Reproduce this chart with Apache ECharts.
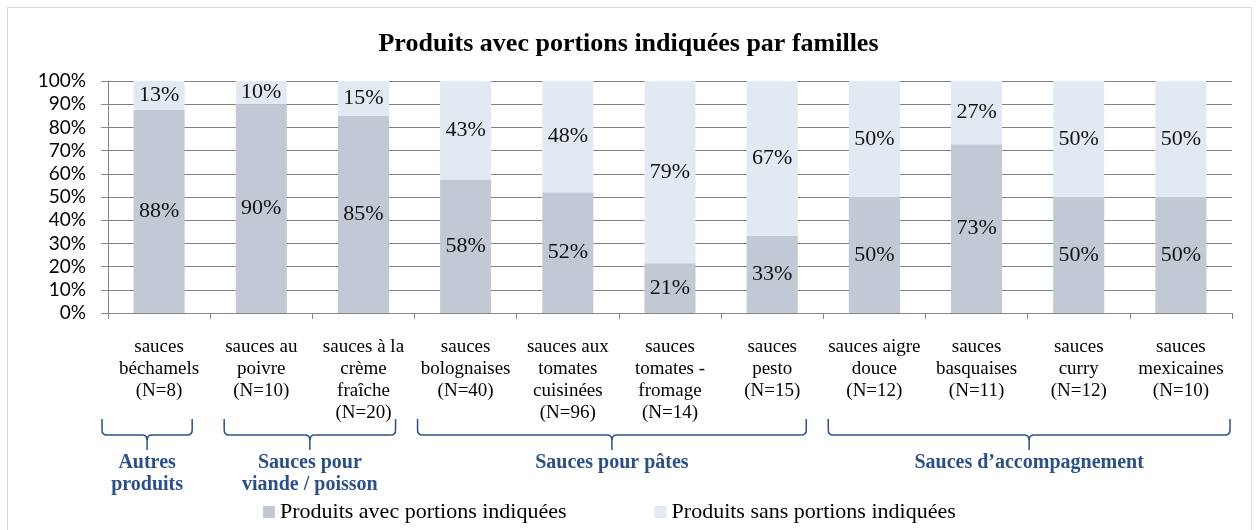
<!DOCTYPE html>
<html>
<head>
<meta charset="utf-8">
<script src="https://cdn.jsdelivr.net/npm/echarts@6/dist/echarts.min.js"></script>
<style>
  html, body { margin: 0; padding: 0; background: #fff; }
  #frame {
    position: absolute; left: 7px; top: 7px; width: 1245px; height: 540px;
    border: 1px solid #d9d9d9; box-sizing: border-box;
  }
  #main { position: absolute; left: 0; top: 0; width: 1257px; height: 530px; }
</style>
</head>
<body>
<div id="frame"></div>
<div id="main"></div>
<script>
// catégories (axe des x)
const categories = [
  'sauces\nbéchamels\n(N=8)',
  'sauces au\npoivre\n(N=10)',
  'sauces à la\ncrème\nfraîche\n(N=20)',
  'sauces\nbolognaises\n(N=40)',
  'sauces aux\ntomates\ncuisinées\n(N=96)',
  'sauces\ntomates -\nfromage\n(N=14)',
  'sauces\npesto\n(N=15)',
  'sauces aigre\ndouce\n(N=12)',
  'sauces\nbasquaises\n(N=11)',
  'sauces\ncurry\n(N=12)',
  'sauces\nmexicaines\n(N=10)'
];
// % de produits avec / sans portions indiquées
const avecPortions = [87.5, 90, 85, 57.5, 52.1, 21.4, 33.3, 50, 72.7, 50, 50];
const sansPortions = [12.5, 10, 15, 42.5, 47.9, 78.6, 66.7, 50, 27.3, 50, 50];
// familles
const groupNames = ['Autres\nproduits', 'Sauces pour\nviande / poisson', 'Sauces pour pâtes', 'Sauces d\u2019accompagnement'];
const groupStart = [0, 1, 3, 7];
const groupEnd = [0, 2, 6, 10];

const serif = '"Liberation Serif", "DejaVu Serif", serif';
const blue = '#2c4f86';

const chart = echarts.init(document.getElementById('main'));

const labelStyle = {
  show: true,
  position: 'inside',
  fontFamily: serif,
  fontSize: 22,
  color: '#111',
  formatter: p => Math.round(p.value) + '%'
};

chart.setOption({
  animation: false,
  title: {
    text: 'Produits avec portions indiquées par familles',
    left: 'center',
    top: 26,
    textStyle: { fontFamily: serif, fontWeight: 'bold', fontSize: 26, color: '#000' }
  },
  legend: {
    bottom: 2,
    left: 258,
    itemWidth: 12,
    itemHeight: 12,
    itemGap: 88,
    icon: 'rect',
    textStyle: { fontFamily: serif, fontSize: 22, color: '#000' },
    data: ['Produits avec portions indiquées', 'Produits sans portions indiquées']
  },
  grid: { left: 108, right: 25, top: 81, height: 232 },
  xAxis: {
    type: 'category',
    data: categories,
    axisLine: { lineStyle: { color: '#868686' } },
    axisTick: { show: true, length: 6, lineStyle: { color: '#868686' } },
    axisLabel: {
      interval: 0,
      margin: 23,
      fontFamily: serif,
      fontSize: 19,
      lineHeight: 22,
      color: '#000'
    }
  },
  yAxis: {
    type: 'value',
    min: 0,
    max: 100,
    interval: 10,
    axisLine: { show: true, lineStyle: { color: '#868686' } },
    axisTick: { show: true, length: 7, lineStyle: { color: '#868686' } },
    splitLine: { lineStyle: { color: '#808080', width: 1 } },
    axisLabel: {
      formatter: '{value}%',
      margin: 22,
      fontFamily: 'Lato, "Open Sans", sans-serif',
      fontSize: 19,
      color: '#000'
    }
  },
  series: [
    {
      name: 'Produits avec portions indiquées',
      type: 'bar',
      stack: 'total',
      barWidth: '50%',
      itemStyle: { color: '#c2c9d4' },
      label: labelStyle,
      data: avecPortions
    },
    {
      name: 'Produits sans portions indiquées',
      type: 'bar',
      stack: 'total',
      barWidth: '50%',
      itemStyle: { color: '#e3e9f3' },
      label: labelStyle,
      data: sansPortions
    }
  ]
});

// accolades + noms de familles sous l'axe
const c0 = chart.convertToPixel({ xAxisIndex: 0 }, 0);
const c1 = chart.convertToPixel({ xAxisIndex: 0 }, 1);
const band = c1 - c0;
const yTop = 419, yLine = 435, yTip = 450, r = 5;
// décalage des extrémités de chaque accolade par rapport aux bords des catégories
const insetL = [-6, 14, 3, 5];
const insetR = [18, 19, 17, 2];
const lineStyle = { stroke: blue, lineWidth: 1.5, fill: null };
const graphics = [];

function seg(xa, ya, xb, yb) {
  graphics.push({ type: 'line', shape: { x1: xa, y1: ya, x2: xb, y2: yb }, style: lineStyle });
}
function corner(xa, ya, cx, cy, xb, yb) {
  graphics.push({
    type: 'bezierCurve',
    shape: { x1: xa, y1: ya, x2: xb, y2: yb, cpx1: cx, cpy1: cy },
    style: lineStyle
  });
}

for (let i = 0; i < groupNames.length; i++) {
  const x1 = chart.convertToPixel({ xAxisIndex: 0 }, groupStart[i]) - band / 2 + insetL[i];
  const x2 = chart.convertToPixel({ xAxisIndex: 0 }, groupEnd[i]) + band / 2 - insetR[i];
  const xm = (x1 + x2) / 2;
  seg(x1, yTop, x1, yLine - r);
  corner(x1, yLine - r, x1, yLine, x1 + r, yLine);
  seg(x1 + r, yLine, xm - r, yLine);
  corner(xm - r, yLine, xm, yLine, xm, yLine + r);
  corner(xm + r, yLine, xm, yLine, xm, yLine + r);
  seg(xm, yLine + r, xm, yTip);
  seg(xm + r, yLine, x2 - r, yLine);
  corner(x2 - r, yLine, x2, yLine, x2, yLine - r);
  seg(x2, yLine - r, x2, yTop);
  graphics.push({
    type: 'text',
    x: xm,
    y: 452,
    style: {
      text: groupNames[i],
      fontFamily: serif,
      fontWeight: 'bold',
      fontSize: 20,
      lineHeight: 22,
      fill: blue,
      align: 'center',
      verticalAlign: 'top'
    }
  });
}
chart.setOption({ graphic: graphics });
</script>
</body>
</html>
